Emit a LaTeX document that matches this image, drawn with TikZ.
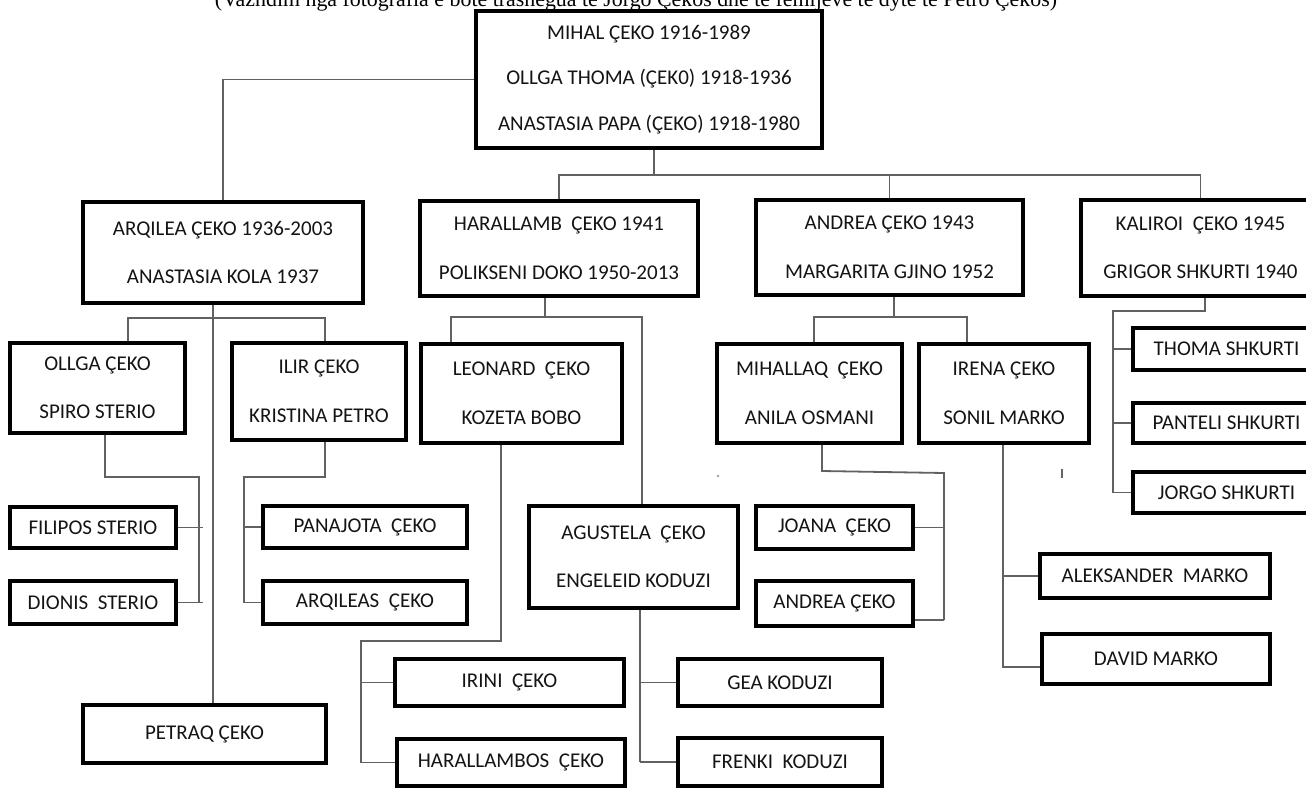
\documentclass[tikz,border=0pt]{standalone}
\usepackage{fontspec}
\setmainfont{Carlito}
\newfontfamily\capfont{Liberation Serif}
\usetikzlibrary{calc}
\tikzset{
  person/.style={draw=black, line width=3.5pt, rectangle, inner sep=0pt, align=center,
    font=\fontsize{21}{48.5}\selectfont, text=black!92},
  conn/.style={draw=black!62, line width=1.8pt},
}
\begin{document}
\begin{tikzpicture}[x=1pt,y=-1pt]
\useasboundingbox (0,0) rectangle (1306,787);
\fill[white] (0,0) rectangle (1306,787);
\clip (0,0) rectangle (1306,787);

% caption (cut at the top of the picture, as in the reference)
\node[anchor=base, inner sep=0pt, font=\capfont] (cap) at (636,7)
  {\resizebox{842pt}{!}{(Vazhdim nga fotografia e bote trashëgua të Jorgo Çekos dhe të fëmijëve të dytë të Petro Çekos)}};

% generation 1
\node[person, minimum width=346, minimum height=137, font=\fontsize{21}{45.5}\selectfont] (main) at (649,79.5)
  {MIHAL ÇEKO 1916-1989\\OLLGA THOMA (ÇEK0) 1918-1936\\ANASTASIA PAPA (ÇEKO) 1918-1980};

% generation 2
\node[person, minimum width=280, minimum height=101] (arq) at (223,252.5) {ARQILEA ÇEKO 1936-2003\\ANASTASIA KOLA 1937};
\node[person, minimum width=278, minimum height=95] (har) at (559,248.5) {HARALLAMB\ \ ÇEKO 1941\\POLIKSENI DOKO 1950-2013};
\node[person, minimum width=267, minimum height=95] (andr) at (889.5,247.5) {ANDREA ÇEKO 1943\\MARGARITA GJINO 1952};
\node[person, minimum width=239, minimum height=96] (kal) at (1200.5,248) {KALIROI\ \ ÇEKO 1945\\GRIGOR SHKURTI 1940};

% generation 3
\node[person, minimum width=175, minimum height=90] (ollga) at (97.5,388) {OLLGA ÇEKO\\SPIRO STERIO};
\node[person, minimum width=174, minimum height=97] (ilir) at (319,391.5) {ILIR ÇEKO\\KRISTINA PETRO};
\node[person, minimum width=201, minimum height=99] (leo) at (521.5,393.5) {LEONARD\ \ ÇEKO\\KOZETA BOBO};
\node[person, minimum width=185, minimum height=99] (mih) at (809.5,393.5) {MIHALLAQ\ \ ÇEKO\\ANILA OSMANI};
\node[person, minimum width=170, minimum height=99] (irena) at (1004,393.5) {IRENA ÇEKO\\SONIL MARKO};
\node[person, minimum width=187, minimum height=42] (thoma) at (1226.5,349) {THOMA SHKURTI};
\node[person, minimum width=187, minimum height=40] (panteli) at (1226.5,423) {PANTELI SHKURTI};
\node[person, minimum width=187, minimum height=41] (jorgo) at (1226.5,492.5) {JORGO SHKURTI};
\node[person, minimum width=209, minimum height=102] (agustela) at (633.5,557) {AGUSTELA\ \ ÇEKO\\ENGELEID KODUZI};

% generation 4
\node[person, minimum width=166, minimum height=41] (filipos) at (93,527.5) {FILIPOS STERIO};
\node[person, minimum width=166, minimum height=43] (dionis) at (93,602.5) {DIONIS\ \ STERIO};
\node[person, minimum width=204, minimum height=42] (panajota) at (365,527) {PANAJOTA\ \ ÇEKO};
\node[person, minimum width=204, minimum height=43] (arqileas) at (365,602.5) {ARQILEAS\ \ ÇEKO};
\node[person, minimum width=157, minimum height=43] (joana) at (834.5,527.5) {JOANA\ \ ÇEKO};
\node[person, minimum width=157, minimum height=45] (andrea2) at (834.5,603.5) {ANDREA ÇEKO};
\node[person, minimum width=230, minimum height=44] (aleks) at (1155,576) {ALEKSANDER\ \ MARKO};
\node[person, minimum width=228, minimum height=50] (david) at (1156,659) {DAVID MARKO};
\node[person, minimum width=243, minimum height=58] (petraq) at (204.5,734) {PETRAQ ÇEKO};
\node[person, minimum width=229, minimum height=47] (irini) at (509.5,682.5) {IRINI\ \ ÇEKO};
\node[person, minimum width=228, minimum height=47] (haral2) at (511,762.5) {HARALLAMBOS\ \ ÇEKO};
\node[person, minimum width=204, minimum height=47] (gea) at (780,682.5) {GEA KODUZI};
\node[person, minimum width=204, minimum height=48] (frenki) at (780,762) {FRENKI\ \ KODUZI};

% connector coordinates
\coordinate (r1) at (654,175);
\coordinate (p1) at (213,318);
\coordinate (a2) at (128,318);
\coordinate (a3) at (325,318);
\coordinate (o1) at (105,477);
\coordinate (o2) at (199,477);
\coordinate (i1) at (325,477);
\coordinate (i2) at (244,477);
\coordinate (h1) at (545,317);
\coordinate (h2) at (451,317);
\coordinate (h3) at (642,317);
\coordinate (l1) at (501,641);
\coordinate (l2) at (361,641);
\coordinate (g1) at (640,761);
\coordinate (n1) at (894,317);
\coordinate (n2) at (814,317);
\coordinate (n3) at (967,317);
\coordinate (m1) at (822,471);
\coordinate (m2) at (944,473);
\coordinate (m3) at (944,620);
\coordinate (e1) at (1003,580);
\coordinate (e2) at (1003,667);
\coordinate (k1) at (1205,311);
\coordinate (k2) at (1113,311);

% generation 1 -> 2
\draw[conn] (main.west) -| (arq.north);
\draw[conn] (main.south -| r1) -- (r1);
\draw[conn] (har.north) -- (har.north |- r1) -- (kal.north |- r1) -- (kal.north);
\draw[conn] (andr.north) -- (andr.north |- r1);

% Arqilea
\draw[conn] (arq.south -| p1) -- (petraq.north -| p1);
\draw[conn] (ollga.north -| a2) -- (a2) -- (a3) -- (ilir.north -| a3);
\draw[conn] (ollga.south -| o1) -- (o1) -- (o2) -- (o2 |- dionis.east);
\draw[conn] (filipos.east) -- ($(filipos.east -| o2)+(4,0)$);
\draw[conn] (dionis.east) -- ($(dionis.east -| o2)+(4,0)$);
\draw[conn] (ilir.south -| i1) -- (i1) -- (i2) -- (i2 |- arqileas.west);
\draw[conn] (panajota.west) -- (panajota.west -| i2);
\draw[conn] (arqileas.west) -- (arqileas.west -| i2);

% Harallamb
\draw[conn] (har.south -| h1) -- (h1);
\draw[conn] (leo.north -| h2) -- (h2) -- (h3) -- (agustela.north -| h3);
\draw[conn] (leo.south -| l1) -- (l1) -- (l2) -- (l2 |- haral2.west);
\draw[conn] (irini.west) -- (irini.west -| l2);
\draw[conn] (haral2.west) -- (haral2.west -| l2);
\draw[conn] (agustela.south -| g1) -- (g1 |- frenki.west);
\draw[conn] (gea.west) -- (gea.west -| g1);
\draw[conn] (frenki.west) -- (frenki.west -| g1);

% Andrea
\draw[conn] (andr.south -| n1) -- (n1);
\draw[conn] (mih.north -| n2) -- (n2) -- (n3) -- (irena.north -| n3);
\draw[conn] (mih.south -| m1) -- (m1) -- (m2) -- (m3);
\draw[conn] (joana.east) -- (joana.east -| m2);
\draw[conn] (m3) -- (andrea2.east |- m3);
\draw[conn] (irena.south -| e2) -- (e2) -- (david.west |- e2);
\draw[conn] (aleks.west) -- (aleks.west -| e1);

% Kaliroi
\draw[conn] (kal.south -| k1) -- (k1) -- (k2) -- (k2 |- jorgo.west);
\draw[conn] (thoma.west) -- (thoma.west -| k2);
\draw[conn] (panteli.west) -- (panteli.west -| k2);
\draw[conn] (jorgo.west) -- (jorgo.west -| k2);

% stray marks
\draw[black!60, line width=1.2pt] (1062,469) -- (1062,478);
\fill[black!50] (718,476) circle (1.2);
\end{tikzpicture}
\end{document}
